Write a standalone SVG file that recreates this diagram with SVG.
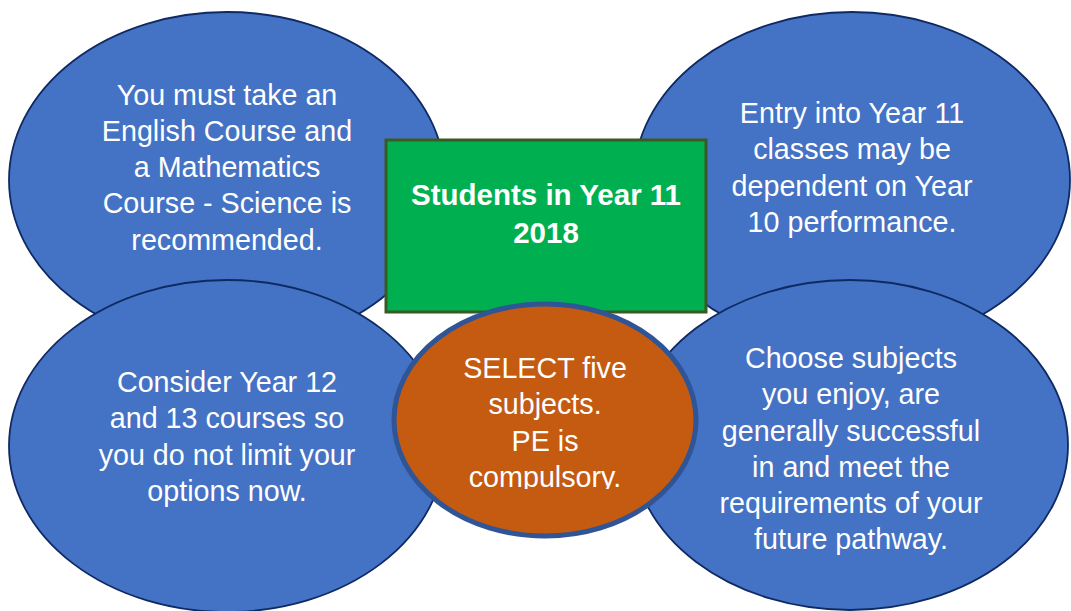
<svg xmlns="http://www.w3.org/2000/svg" width="1071" height="611" viewBox="0 0 1071 611">
<style>
.blue{fill:#4472C4;stroke:#0F2A62;stroke-width:1.8}
.t{font-family:"Liberation Sans",Arial,sans-serif;font-size:28.7px;fill:#FFFFFF;text-anchor:middle}
.b{font-weight:bold;font-size:29.5px}
</style>
<defs>
<clipPath id="oc"><rect x="380" y="300" width="330" height="189"/></clipPath>
</defs>
<rect width="1071" height="611" fill="#FFFFFF"/>
<g id="connectors"/>
<g id="top-left">
<ellipse class="blue" cx="227" cy="180" rx="218" ry="168"/>
<text class="t"><tspan x="227" y="105">You must take an</tspan><tspan x="227" y="141">English Course and</tspan><tspan x="227" y="177">a Mathematics</tspan><tspan x="227" y="213">Course - Science is</tspan><tspan x="227" y="250">recommended.</tspan></text>
</g>
<g id="top-right">
<ellipse class="blue" cx="852" cy="180" rx="218" ry="168"/>
<text class="t"><tspan x="852" y="123">Entry into Year 11</tspan><tspan x="852" y="159">classes may be</tspan><tspan x="852" y="196">dependent on Year</tspan><tspan x="852" y="232">10 performance.</tspan></text>
</g>
<g id="bottom-left">
<ellipse class="blue" cx="227" cy="446" rx="218" ry="166"/>
<text class="t"><tspan x="227" y="392">Consider Year 12</tspan><tspan x="227" y="428">and 13 courses so</tspan><tspan x="227" y="465">you do not limit your</tspan><tspan x="227" y="501">options now.</tspan></text>
</g>
<g id="bottom-right">
<ellipse class="blue" cx="850" cy="445" rx="218" ry="165"/>
<text class="t"><tspan x="851" y="368">Choose subjects</tspan><tspan x="851" y="404">you enjoy, are</tspan><tspan x="851" y="441">generally successful</tspan><tspan x="851" y="477">in and meet the</tspan><tspan x="851" y="513">requirements of your</tspan><tspan x="851" y="549">future pathway.</tspan></text>
</g>
<g id="center-box">
<rect x="386" y="140" width="320" height="172" fill="#00B050" stroke="#3B5A23" stroke-width="3"/>
<text class="t b"><tspan x="546" y="205">Students in Year 11</tspan><tspan x="546" y="243">2018</tspan></text>
</g>
<g id="center-oval">
<ellipse cx="545" cy="420" rx="151" ry="116" fill="#C55A11" stroke="#2F5597" stroke-width="5"/>
<text class="t" clip-path="url(#oc)"><tspan x="545" y="378">SELECT five</tspan><tspan x="545" y="414">subjects.</tspan><tspan x="545" y="451">PE is</tspan><tspan x="545" y="487">compulsory.</tspan></text>
</g>
</svg>
